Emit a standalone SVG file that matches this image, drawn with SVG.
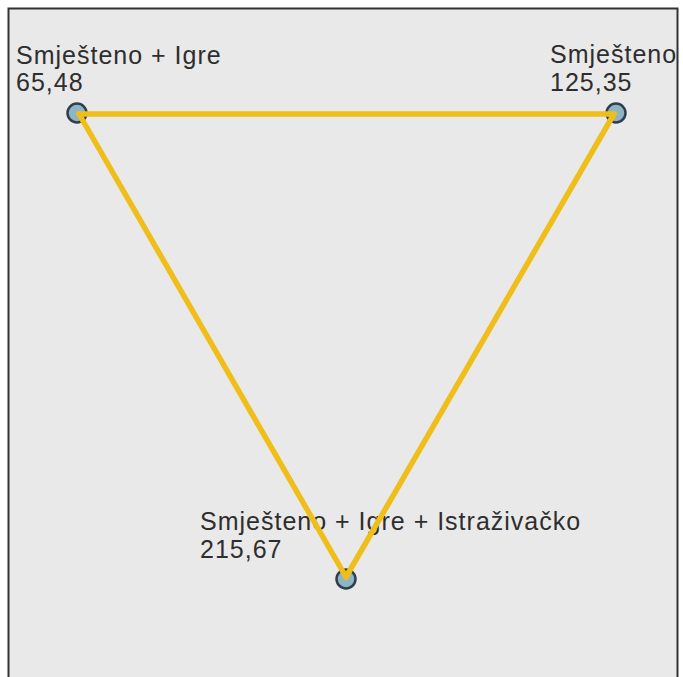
<svg xmlns="http://www.w3.org/2000/svg" width="683" height="677" viewBox="0 0 683 677">
<defs>
<style>
.lbl{font-family:"Liberation Sans",Arial,sans-serif;font-size:25px;letter-spacing:1px;fill:#2e2e2e}
.node{fill:#8fb4c6;stroke:#2e3e4c;stroke-width:2.5}
.edge{stroke:#f0be1a;stroke-width:5.5;stroke-linecap:round;fill:none}
</style>
<clipPath id="frame"><rect x="9" y="9" width="668" height="670"/></clipPath>
</defs>
<rect x="0" y="0" width="683" height="677" fill="#ffffff"/>
<rect x="8.5" y="8.5" width="669" height="680" fill="#e9e9e9" stroke="#333333" stroke-width="2"/>
<g clip-path="url(#frame)">
<g id="node-a">
<circle class="node" cx="77" cy="113" r="9.5"/>
<text class="lbl" x="16" y="64">Smješteno + Igre</text>
<text class="lbl" x="16" y="91">65,48</text>
</g>
<g id="node-b">
<circle class="node" cx="616" cy="113" r="9.5"/>
<text class="lbl" x="550" y="63">Smješteno</text>
<text class="lbl" x="550" y="91">125,35</text>
</g>
<g id="node-c">
<circle class="node" cx="346" cy="579" r="9.5"/>
<text class="lbl" x="200" y="530">Smješteno + Igre + Istraživačko</text>
<text class="lbl" x="200" y="558">215,67</text>
</g>
<g id="connectors">
<line class="edge" x1="79" y1="114" x2="614" y2="114"/>
<line class="edge" x1="79" y1="114" x2="346" y2="577"/>
<line class="edge" x1="614" y1="114" x2="346" y2="577"/>
</g>
</g>
</svg>
